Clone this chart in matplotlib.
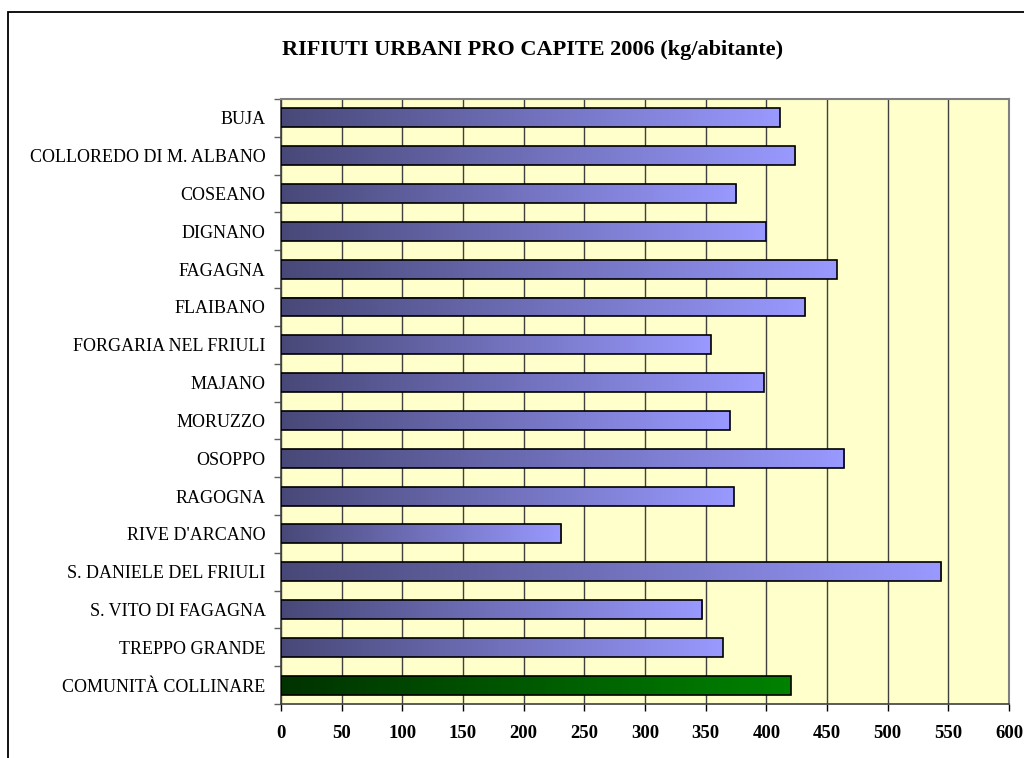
import matplotlib.pyplot as plt
import numpy as np
from matplotlib.colors import LinearSegmentedColormap
from matplotlib.patches import Rectangle

comuni = ["BUJA", "COLLOREDO DI M. ALBANO", "COSEANO", "DIGNANO", "FAGAGNA",
          "FLAIBANO", "FORGARIA NEL FRIULI", "MAJANO", "MORUZZO", "OSOPPO",
          "RAGOGNA", "RIVE D'ARCANO", "S. DANIELE DEL FRIULI",
          "S. VITO DI FAGAGNA", "TREPPO GRANDE", "COMUNITÀ COLLINARE"]
kg_abitante = [411, 424, 375, 400, 458, 432, 354, 398, 370, 464, 373, 231,
               544, 347, 364, 420]
xticks = list(range(0, 601, 50))

plt.rcParams['font.family'] = ['Liberation Serif', 'DejaVu Serif']

blu = LinearSegmentedColormap.from_list("blu", ["#484878", "#9999ff"])
verde = LinearSegmentedColormap.from_list("verde", ["#003300", "#008200"])
grad = np.linspace(0, 1, 256).reshape(1, -1)

fig = plt.figure(figsize=(10.24, 7.58), dpi=100)
ax = fig.add_axes([0.2744, 0.0712, 0.7110, 0.7982])
ax.set_facecolor("#ffffcc")

n = len(comuni)
h = 0.5
for i, v in enumerate(kg_abitante):
    cmap = verde if i == n - 1 else blu
    ax.imshow(grad, cmap=cmap, aspect='auto', extent=(0, v, i + h / 2, i - h / 2),
              zorder=3, interpolation='bilinear')
ax.barh(range(n), kg_abitante, height=h, fill=False, edgecolor='black',
        linewidth=1.2, zorder=4)

ax.set_xlim(0, 600)
ax.set_ylim(n - 0.5, -0.5)
ax.set_xticks(xticks)
ax.set_xticklabels([str(t) for t in xticks], fontsize=13.5, fontweight='bold')
ax.set_yticks(range(n))
ax.set_yticklabels(comuni, fontsize=13)
ax.set_yticks(np.arange(-0.5, n, 1.0), minor=True)
ax.tick_params(axis='y', which='major', length=0, pad=11)
ax.tick_params(axis='y', which='minor', length=5, width=1, color='#606060')
ax.tick_params(axis='x', length=5, width=1, pad=10)
ax.grid(axis='x', color='#404040', linewidth=1, zorder=1)
ax.set_axisbelow(True)

for s in ['top', 'right']:
    ax.spines[s].set_color('#808080')
    ax.spines[s].set_linewidth(1.5)
for s in ['left', 'bottom']:
    ax.spines[s].set_color('#404040')
    ax.spines[s].set_linewidth(1.2)

fig.text(0.52, 0.934, "RIFIUTI URBANI PRO CAPITE 2006 (kg/abitante)",
         ha='center', va='center', fontsize=16, fontweight='bold')

# cornice del grafico (esce dal bordo a destra e in basso)
fig.add_artist(Rectangle((8 / 1024, -0.1), 1.2, 1 - 12 / 758 + 0.1,
                         transform=fig.transFigure, fill=False,
                         edgecolor='black', linewidth=1.3))

fig.savefig("out.png", dpi=100)
